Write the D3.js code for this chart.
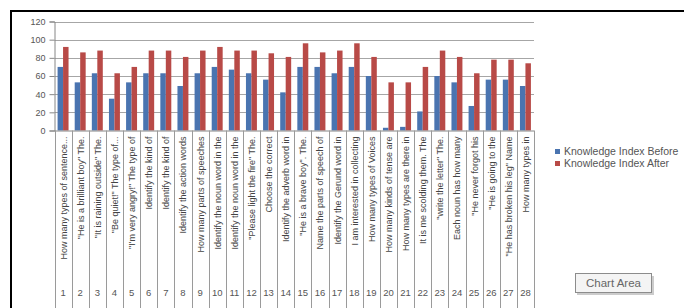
<!DOCTYPE html>
<html><head><meta charset="utf-8">
<script src="https://cdn.jsdelivr.net/npm/d3@7"></script>
<style>
html,body{margin:0;padding:0;background:#fff;}
svg{display:block;font-family:"Liberation Sans",Arial,sans-serif;}
</style></head>
<body><svg id="c" width="684" height="308"></svg>
<script>
const categories = ["1","2","3","4","5","6","7","8","9","10","11","12","13","14","15","16","17","18","19","20","21","22","23","24","25","26","27","28"];
const questions = [
 "How many types of sentence...",
 "\"He is a brilliant boy\" The.",
 "\"It is raining outside\" The.",
 "\"Be quiet!\" The type of...",
 "\"I'm very angry!\" The type of",
 "Identify the kind of",
 "Identify the kind of",
 "Identify the action words",
 "How many parts of speeches",
 "Identify the noun word in the",
 "Identify the noun word in the",
 "\"Please light the fire\" The.",
 "Choose the correct",
 "Identify the adverb word in",
 "\"He is a brave boy\". The.",
 "Name the parts of speech of",
 "Identify the Gerund word in",
 "I am interested in collecting",
 "How many types of Voices",
 "How many kinds of tense are",
 "How many types are there in",
 "It is me scolding them. The",
 "\"write the letter\" The.",
 "Each noun has how many",
 "\"He never forgot his",
 "\"He is going to the",
 "\"He has broken his leg\" Name",
 "How many types in"
];
const before = [70,53,63,35,53,63,63,49,63,70,67,63,56,42,70,70,63,70,60,3,4,21,60,53,27,56,56,49];
const after  = [92,86,88,63,70,88,88,81,88,92,88,88,85,81,96,86,88,96,81,53,53,70,88,81,63,78,78,74];
const seriesNames = ["Knowledge Index Before","Knowledge Index After"];
const yTicks = [0,20,40,60,80,100,120];
const colors = ["#4A74B0","#B84A47"];

const svg = d3.select("#c");
// outer border (top/left)
svg.append("rect").attr("x",11).attr("y",11).attr("width",700).attr("height",320)
  .attr("fill","none").attr("stroke","#000").attr("stroke-width",2);

const L = 54.5, R = 534, T = 21.5, B = 130.5;
const x = d3.scaleBand().domain(categories).range([L,R]).paddingInner(0.36).paddingOuter(0.18);
const xs = d3.scaleBand().domain([0,1]).range([0,x.bandwidth()]);
const y = d3.scaleLinear().domain([0,120]).range([B,T]);

// gridlines
svg.append("g").selectAll("line").data(yTicks.filter(d=>d>0)).join("line")
  .attr("x1",L).attr("x2",R).attr("y1",d=>Math.round(y(d))+0.5).attr("y2",d=>Math.round(y(d))+0.5)
  .attr("stroke","#a6a6a6").attr("stroke-width",1);

// bars
const groups = svg.append("g").selectAll("g").data(categories).join("g")
  .attr("transform",d=>`translate(${x(d)},0)`);
groups.selectAll("rect").data((d,i)=>[before[i],after[i]]).join("rect")
  .attr("x",(d,j)=>xs(j)).attr("width",xs.bandwidth())
  .attr("y",d=>y(d)).attr("height",d=>B-y(d))
  .attr("fill",(d,j)=>colors[j]);

// y axis
const ya = svg.append("g").attr("transform",`translate(${L},0)`)
  .call(d3.axisLeft(y).tickValues(yTicks).tickSize(5).tickPadding(4));
ya.select(".domain").attr("stroke","#868686");
ya.selectAll(".tick line").attr("stroke","#868686");
ya.selectAll(".tick text").attr("fill","#555").attr("font-size","9px");

// category axis line
svg.append("line").attr("x1",L).attr("x2",R).attr("y1",B+0.5).attr("y2",B+0.5).attr("stroke","#868686");

// separators
const bounds = d3.range(categories.length+1).map(i=>L + (R-L)*i/categories.length);
svg.append("g").selectAll("line").data(bounds).join("line")
  .attr("x1",d=>Math.round(d)+0.5).attr("x2",d=>Math.round(d)+0.5)
  .attr("y1",B).attr("y2",308).attr("stroke","#9a9a9a");

// question labels (rotated)
svg.append("g").selectAll("text").data(categories).join("text")
  .attr("transform",d=>`translate(${x(d)+x.bandwidth()/2+3.5},${B+6}) rotate(-90)`)
  .attr("text-anchor","end").attr("font-size","9px").attr("fill","#444")
  .text((d,i)=>questions[i]);

// numbers
svg.append("g").selectAll("text").data(categories).join("text")
  .attr("x",d=>x(d)+x.bandwidth()/2).attr("y",296)
  .attr("text-anchor","middle").attr("font-size","9.5px").attr("fill","#555")
  .text(d=>d);

// legend
const lg = svg.append("g");
seriesNames.forEach((n,i)=>{
  const ly = 152 + i*12;
  lg.append("rect").attr("x",555).attr("y",ly-3).attr("width",5).attr("height",5).attr("fill",colors[i]);
  lg.append("text").attr("x",564).attr("y",ly+3).attr("font-size","10.5px").attr("fill","#555").text(n);
});

// "Chart Area" tooltip
const tip = svg.append("g");
tip.append("rect").attr("x",577).attr("y",276).attr("width",77).attr("height",19).attr("fill","#999").attr("opacity",0.5);
tip.append("rect").attr("x",575.5).attr("y",273.5).attr("width",76).attr("height",19)
  .attr("fill","#f4f4f4").attr("stroke","#8c8c8c");
tip.append("text").attr("x",613.5).attr("y",287).attr("text-anchor","middle")
  .attr("font-size","11.5px").attr("fill","#666").text("Chart Area");
</script></body></html>
